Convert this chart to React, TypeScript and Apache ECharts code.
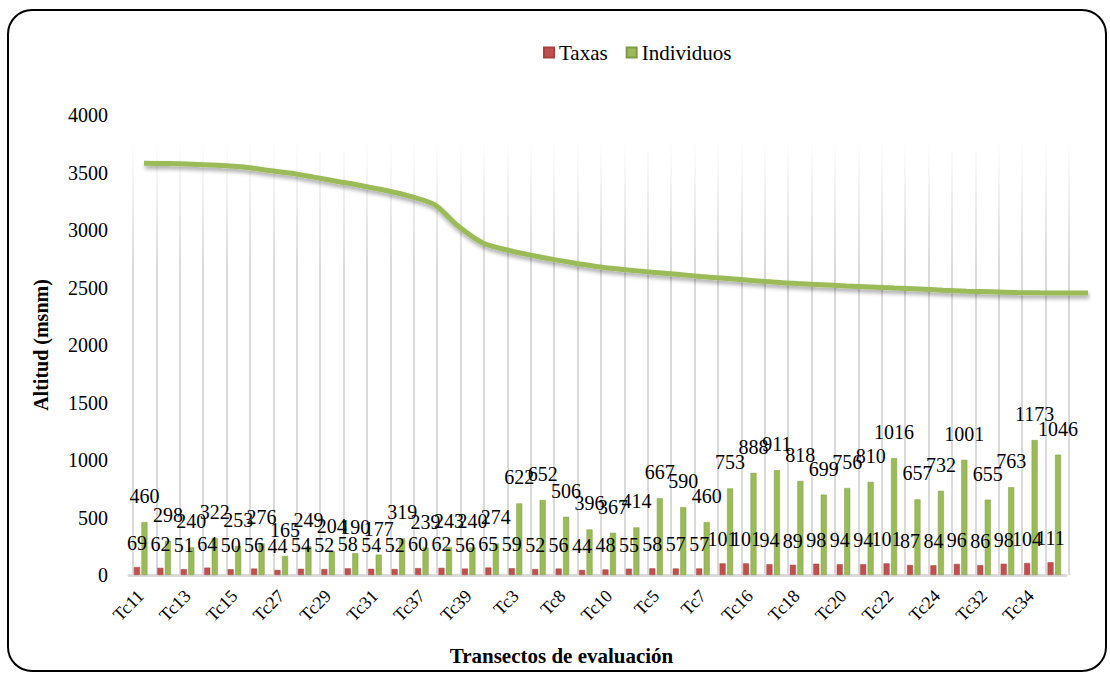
import React, { useEffect, useRef } from "react";
import * as echarts from "echarts";

const categories = [
  "Tc11", "Tc12", "Tc13", "Tc14", "Tc15", "Tc26", "Tc27", "Tc28", "Tc29", "Tc30",
  "Tc31", "Tc36", "Tc37", "Tc38", "Tc39", "Tc40", "Tc3", "Tc4", "Tc8", "Tc9",
  "Tc10", "Tc1", "Tc5", "Tc6", "Tc7", "Tc2", "Tc16", "Tc17", "Tc18", "Tc19",
  "Tc20", "Tc21", "Tc22", "Tc23", "Tc24", "Tc25", "Tc32", "Tc33", "Tc34", "Tc35",
];

const taxas = [
  69, 62, 51, 64, 50, 56, 44, 54, 52, 58,
  54, 52, 60, 62, 56, 65, 59, 52, 56, 44,
  48, 55, 58, 57, 57, 101, 101, 94, 89, 98,
  94, 94, 101, 87, 84, 96, 86, 98, 104, 111,
];

const individuos = [
  460, 298, 240, 322, 253, 276, 165, 249, 204, 190,
  177, 319, 239, 243, 240, 274, 622, 652, 506, 396,
  367, 414, 667, 590, 460, 753, 888, 911, 818, 699,
  756, 810, 1016, 657, 732, 1001, 655, 763, 1173, 1046,
];

const altitud = [
  3580, 3578, 3572, 3563, 3550, 3522, 3495, 3460, 3422, 3385,
  3343, 3292, 3220, 3030, 2887, 2826, 2780, 2740, 2705, 2673,
  2652, 2633, 2615, 2596, 2580, 2563, 2547, 2534, 2524, 2514,
  2505, 2496, 2487, 2477, 2468, 2462, 2457, 2454, 2452, 2452,
];

const FONT = "Liberation Serif";

export default function App() {
  const ref = useRef<HTMLDivElement>(null);

  useEffect(() => {
    if (!ref.current) return;
    const chart = echarts.init(ref.current, undefined, { renderer: "svg" });

    const gridGradient = new echarts.graphic.LinearGradient(
      0, 140, 0, 270,
      [
        { offset: 0, color: "rgba(205,205,205,0)" },
        { offset: 1, color: "rgba(205,205,205,1)" },
      ],
      true
    );

    const option: any = {
      animation: false,
      backgroundColor: "#ffffff",
      textStyle: { fontFamily: FONT, color: "#000" },
      graphic: [
        {
          type: "rect",
          shape: { x: 8, y: 10, width: 1098, height: 661, r: 24 },
          style: { fill: "none", stroke: "#000", lineWidth: 2 },
          silent: true,
          z: 100,
        },
      ],
      legend: {
        data: ["Taxas", "Individuos"],
        left: 538,
        top: 37,
        icon: "rect",
        itemWidth: 10,
        itemHeight: 10,
        itemGap: 18,
        textStyle: { fontSize: 21, color: "#000", fontFamily: FONT },
      },
      grid: [
        { left: 129, top: 115, width: 937, height: 460 },
        { left: 144, top: 115, width: 944, height: 460 },
        { left: 133, top: 115, width: 936, height: 460 },
      ],
      xAxis: [
        {
          gridIndex: 0,
          type: "category",
          data: categories,
          axisLine: { lineStyle: { color: "#d9d9d9", width: 3 } },
          axisTick: { show: false },
          axisLabel: {
            interval: 1,
            rotate: 45,
            fontSize: 18,
            color: "#000",
            margin: 18,
            fontFamily: FONT,
          },
          splitLine: { show: false },
          name: "Transectos de evaluación",
          nameLocation: "middle",
          nameGap: 70,
          nameTextStyle: {
            fontWeight: "bold",
            fontSize: 21,
            color: "#000",
            fontFamily: FONT,
            padding: [0, 72, 0, 0],
          },
        },
        {
          gridIndex: 1,
          type: "category",
          data: categories,
          boundaryGap: false,
          show: false,
        },
        {
          gridIndex: 2,
          type: "category",
          data: categories,
          axisLine: { show: false },
          axisTick: { show: false },
          axisLabel: { show: false },
          splitLine: {
            show: true,
            interval: 0,
            lineStyle: { color: gridGradient, width: 1.5 },
          },
        },
      ],
      yAxis: [
        {
          gridIndex: 0,
          type: "value",
          min: 0,
          max: 4000,
          interval: 500,
          axisLine: { show: false },
          axisTick: { show: false },
          splitLine: { show: false },
          axisLabel: {
            fontSize: 20,
            color: "#000",
            margin: 21,
            fontFamily: FONT,
            formatter: (v: number) => String(v),
          },
          name: "Altitud (msnm)",
          nameLocation: "middle",
          nameGap: 78,
          nameRotate: 90,
          nameTextStyle: {
            fontWeight: "bold",
            fontSize: 20,
            color: "#000",
            fontFamily: FONT,
          },
        },
        { gridIndex: 1, type: "value", min: 0, max: 4000, show: false },
        { gridIndex: 2, type: "value", min: 0, max: 4000, show: false },
      ],
      series: [
        {
          name: "Taxas",
          type: "bar",
          xAxisIndex: 0,
          yAxisIndex: 0,
          data: taxas,
          barWidth: 6,
          barGap: "25%",
          itemStyle: { color: "#C0504D", borderColor: "#a8423f", borderWidth: 0.5 },
          label: {
            show: true,
            position: "top",
            distance: 14,
            fontSize: 20,
            color: "#000",
            fontFamily: FONT,
          },
          z: 3,
        },
        {
          name: "Individuos",
          type: "bar",
          xAxisIndex: 0,
          yAxisIndex: 0,
          data: individuos,
          barWidth: 6,
          itemStyle: { color: "#9BBB59", borderColor: "#7f9c45", borderWidth: 0.5 },
          label: {
            show: true,
            position: "top",
            distance: 16,
            fontSize: 20,
            color: "#000",
            fontFamily: FONT,
          },
          z: 3,
        },
        {
          name: "Altitud",
          type: "line",
          xAxisIndex: 1,
          yAxisIndex: 1,
          data: altitud,
          smooth: 0.3,
          symbol: "none",
          lineStyle: {
            color: "#9BBB59",
            width: 5,
            shadowColor: "rgba(0,0,0,0.35)",
            shadowBlur: 4,
            shadowOffsetX: 1,
            shadowOffsetY: 3,
          },
          z: 4,
        },
      ],
    };

    chart.setOption(option);
    return () => {
      chart.dispose();
    };
  }, []);

  return (
    <div
      ref={ref}
      style={{ position: "absolute", left: 0, top: 0, width: 1110, height: 674 }}
    />
  );
}
